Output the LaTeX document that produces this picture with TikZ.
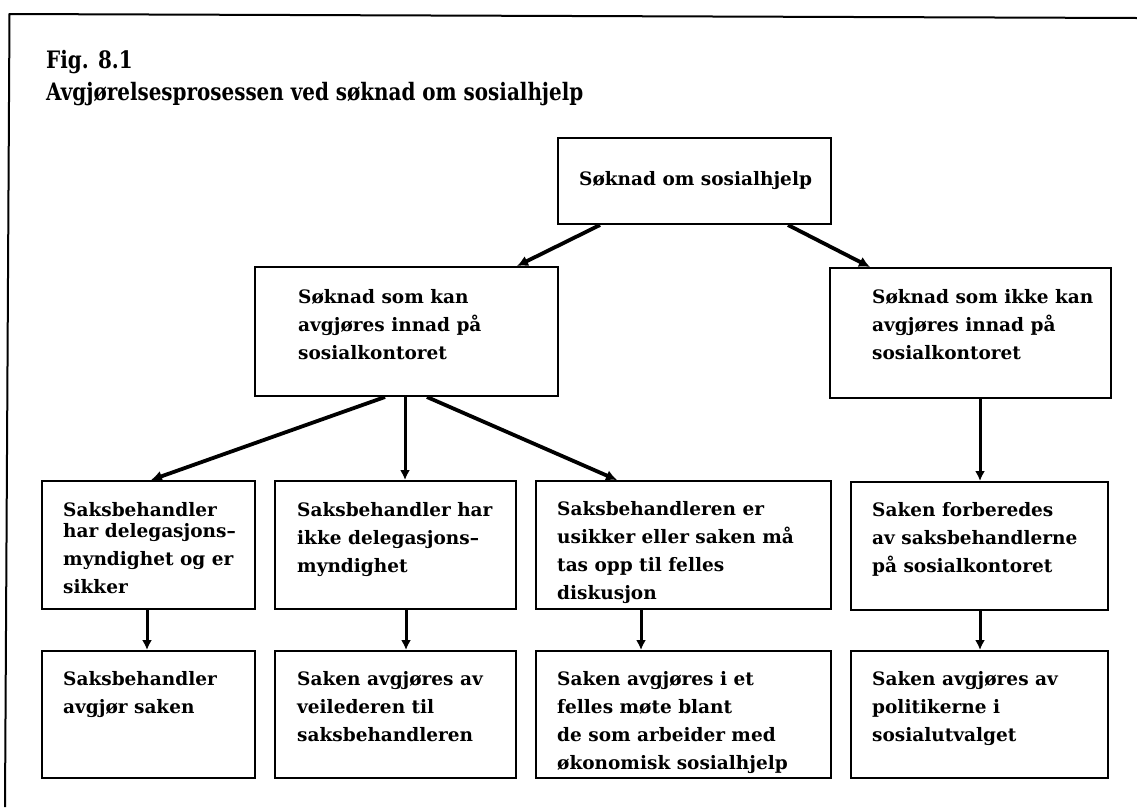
\documentclass[tikz,border=0pt]{standalone}
\usepackage{fontspec}
\setmainfont{DejaVu Serif}
\newfontfamily\ttlfont[FakeStretch=0.83]{DejaVu Serif}
\usetikzlibrary{arrows.meta}
\newcommand\fl{\rule{0pt}{16pt}}
\begin{document}
\begin{tikzpicture}[x=1pt,y=-1pt,
  boxn/.style 2 args={draw, line width=2pt, anchor=north west, inner sep=0pt,
    minimum width=#1pt, minimum height=#2pt},
  txt/.style={anchor=north west, inner sep=0pt, align=left,
    font=\bfseries\fontsize{18.5}{28}\selectfont},
  ttl/.style={anchor=north west, inner sep=0pt, align=left,
    font=\ttlfont\bfseries\fontsize{24}{32}\selectfont},
  arr/.style={line width=3.8pt, -{Latex[length=11pt,width=11pt]}},
  varr/.style={line width=3pt, -{Latex[length=10pt,width=10pt]}},
  frame/.style={line width=2pt}]
\useasboundingbox[fill=white] (0,0) rectangle (1137,807);
% frame (scan crop: only top and left sides visible)
\draw[frame] (5,807) -- (9.5,14) -- (1137,18);
% title
\node[ttl] (title) at (46,50) {\rule{0pt}{18pt}Fig. 8.1\\Avgjørelsesprosessen ved søknad om sosialhjelp};
% boxes
\node[boxn={273}{86}]  (T)  at (557,137) {};
\node[boxn={303}{129}] (ML) at (254,266) {};
\node[boxn={281}{130}] (MR) at (829,267) {};
\node[boxn={213}{128}] (B1) at (41,480) {};
\node[boxn={241}{128}] (B2) at (274,480) {};
\node[boxn={295}{128}] (B3) at (535,480) {};
\node[boxn={257}{128}] (B4) at (850,481) {};
\node[boxn={213}{127}] (C1) at (41,650) {};
\node[boxn={241}{127}] (C2) at (274,650) {};
\node[boxn={295}{127}] (C3) at (535,650) {};
\node[boxn={257}{127}] (C4) at (850,650) {};
% texts
\node[txt] (tT)  at (579,169) {\fl Søknad om sosialhjelp};
\node[txt] (tML) at (298,287) {\fl Søknad som kan\\avgjøres innad på\\sosialkontoret};
\node[txt] (tMR) at (872,287) {\fl Søknad som ikke kan\\avgjøres innad på\\sosialkontoret};
\node[txt] (tB1) at (63,500) {\fl Saksbehandler\\[-6.5pt]har delegasjons–\\myndighet og er\\sikker};
\node[txt] (tB2) at (297,500) {\fl Saksbehandler har\\ikke delegasjons–\\myndighet};
\node[txt] (tB3) at (557,499) {\fl Saksbehandleren er\\usikker eller saken må\\tas opp til felles\\diskusjon};
\node[txt] (tB4) at (872,500) {\fl Saken forberedes\\av saksbehandlerne\\på sosialkontoret};
\node[txt] (tC1) at (63,669) {\fl Saksbehandler\\avgjør saken};
\node[txt] (tC2) at (297,669) {\fl Saken avgjøres av\\veilederen til\\saksbehandleren};
\node[txt] (tC3) at (557,669) {\fl Saken avgjøres i et\\felles møte blant\\de som arbeider med\\økonomisk sosialhjelp};
\node[txt] (tC4) at (872,669) {\fl Saken avgjøres av\\politikerne i\\sosialutvalget};
% connectors
\draw[arr]  ([xshift=43pt]T.south west)   -- ([xshift=263pt]ML.north west);
\draw[arr]  ([xshift=231pt]T.south west)  -- ([xshift=41pt]MR.north west);
\draw[arr]  ([xshift=131pt]ML.south west) -- ([xshift=110pt]B1.north west);
\draw[varr] ([xshift=151pt]ML.south west) -- ([xshift=131pt]B2.north west);
\draw[arr]  ([xshift=173pt]ML.south west) -- ([xshift=82pt]B3.north west);
\draw[varr] ([xshift=151pt]MR.south west) -- ([xshift=130pt]B4.north west);
\draw[varr] ([xshift=106pt]B1.south west) -- ([xshift=106pt]C1.north west);
\draw[varr] ([xshift=132pt]B2.south west) -- ([xshift=132pt]C2.north west);
\draw[varr] ([xshift=106pt]B3.south west) -- ([xshift=106pt]C3.north west);
\draw[varr] ([xshift=130pt]B4.south west) -- ([xshift=130pt]C4.north west);
\end{tikzpicture}
\end{document}
